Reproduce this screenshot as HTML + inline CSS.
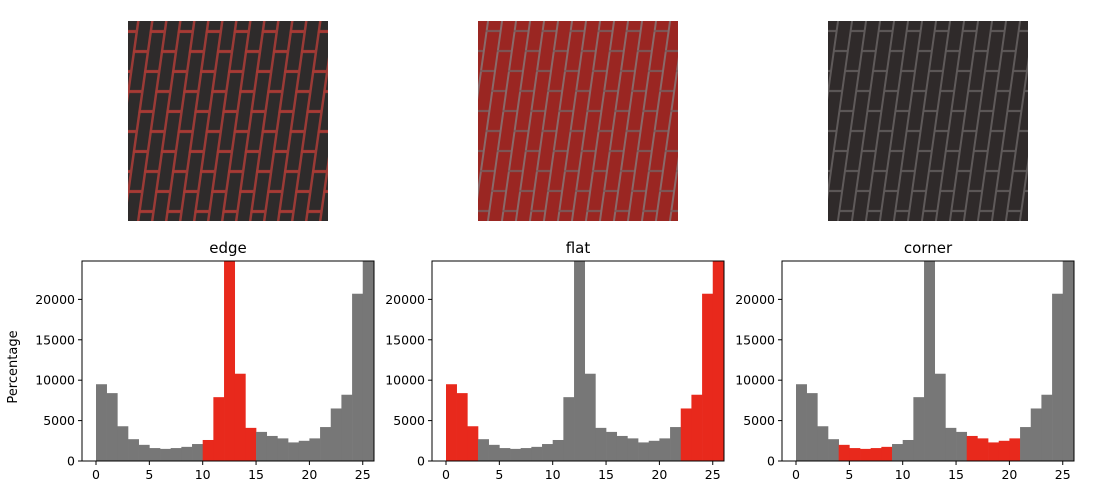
<!DOCTYPE html>
<html><head><meta charset="utf-8"><style>
html,body{margin:0;padding:0;background:#fff;width:1093px;height:499px;overflow:hidden}
svg text{font-family:"DejaVu Sans","Liberation Sans",sans-serif}
</style></head><body>
<svg id="s" width="1093" height="499" xmlns="http://www.w3.org/2000/svg">
<defs>
<pattern id="pe" width="28" height="80" patternUnits="userSpaceOnUse" patternTransform="skewX(-8)">
<rect width="28" height="80" fill="#2e2b2b"/>
<rect x="0" y="0" width="2.5" height="80" fill="#9a3a36"/>
<rect x="14" y="0" width="2.5" height="80" fill="#9a3a36"/>
<rect x="0" y="10" width="14" height="3" fill="#a83a34"/>
<rect x="0" y="50" width="14" height="3" fill="#a83a34"/>
<rect x="14" y="30" width="14" height="3" fill="#a83a34"/>
<rect x="14" y="70" width="14" height="3" fill="#a83a34"/>
</pattern>
<pattern id="pf" width="28" height="80" patternUnits="userSpaceOnUse" patternTransform="skewX(-8)">
<rect width="28" height="80" fill="#9a2622"/>
<rect x="0" y="0" width="2" height="80" fill="#8a6a6a"/>
<rect x="14" y="0" width="2" height="80" fill="#8a6a6a"/>
<rect x="0" y="10" width="14" height="2" fill="#7a5a5a"/>
<rect x="0" y="50" width="14" height="2" fill="#7a5a5a"/>
<rect x="14" y="30" width="14" height="2" fill="#7a5a5a"/>
<rect x="14" y="70" width="14" height="2" fill="#7a5a5a"/>
</pattern>
<pattern id="pc" width="28" height="80" patternUnits="userSpaceOnUse" patternTransform="skewX(-8)">
<rect width="28" height="80" fill="#2f2a2a"/>
<rect x="0" y="0" width="2" height="80" fill="#5f5a5a"/>
<rect x="14" y="0" width="2" height="80" fill="#5f5a5a"/>
<rect x="0" y="10" width="14" height="2" fill="#5f5a5a"/>
<rect x="0" y="50" width="14" height="2" fill="#5f5a5a"/>
<rect x="14" y="30" width="14" height="2" fill="#5f5a5a"/>
<rect x="14" y="70" width="14" height="2" fill="#5f5a5a"/>
</pattern>
</defs>
<rect x="128" y="21" width="200" height="200" fill="url(#pe)"/>
<rect x="478" y="21" width="200" height="200" fill="url(#pf)"/>
<rect x="828" y="21" width="200" height="200" fill="url(#pc)"/>
<text x="11" y="361" font-size="13" text-anchor="middle" transform="rotate(-90 17 361)">Percentage</text>
</svg>
<script>
var s=document.getElementById('s'),NS='http://www.w3.org/2000/svg';
var h=[9500,8400,4300,2700,2000,1600,1500,1600,1750,2100,2600,7900,30000,10800,4100,3600,3100,2800,2300,2500,2800,4200,6500,8200,20700,30000];
var reds=[[[10,15]],[[0,3],[22,26]],[[4,9],[16,21]]];
function isRed(p,i){var r=reds[p];for(var k=0;k<r.length;k++)if(i>=r[k][0]&&i<r[k][1])return true;return false;}
var titles=['edge','flat','corner'],L=[82,432,782];
function el(t,a,txt){var e=document.createElementNS(NS,t);for(var k in a)e.setAttribute(k,a[k]);if(txt!=null)e.textContent=txt;s.appendChild(e);return e;}
for(var p=0;p<3;p++){
 var l=L[p],ty=261,bot=461,w=292,x0=l+14,sx=10.67,sy=200/24750;
 for(var i=0;i<26;i++){var hh=Math.min(h[i]*sy,200);
  el('rect',{x:x0+i*sx,y:bot-hh,width:sx+0.3,height:hh,fill:isRed(p,i)?'#e8291c':'#777777'});}
 el('rect',{x:l,y:ty,width:w,height:200,fill:'none',stroke:'#000','stroke-width':1});
 el('text',{x:l+w/2,y:253,'font-size':15,'text-anchor':'middle'},titles[p]);
 for(var t=0;t<=25;t+=5){var xx=x0+t*sx;el('line',{x1:xx,x2:xx,y1:bot,y2:bot+4,stroke:'#000'});
  el('text',{x:xx,y:bot+18,'font-size':12.5,'text-anchor':'middle'},t);}
 for(var v=0;v<=20000;v+=5000){var yy=bot-v*sy;el('line',{x1:l-4,x2:l,y1:yy,y2:yy,stroke:'#000'});
  el('text',{x:l-7,y:yy+4.5,'font-size':12.5,'text-anchor':'end'},v);}
}
</script>
</body></html>
